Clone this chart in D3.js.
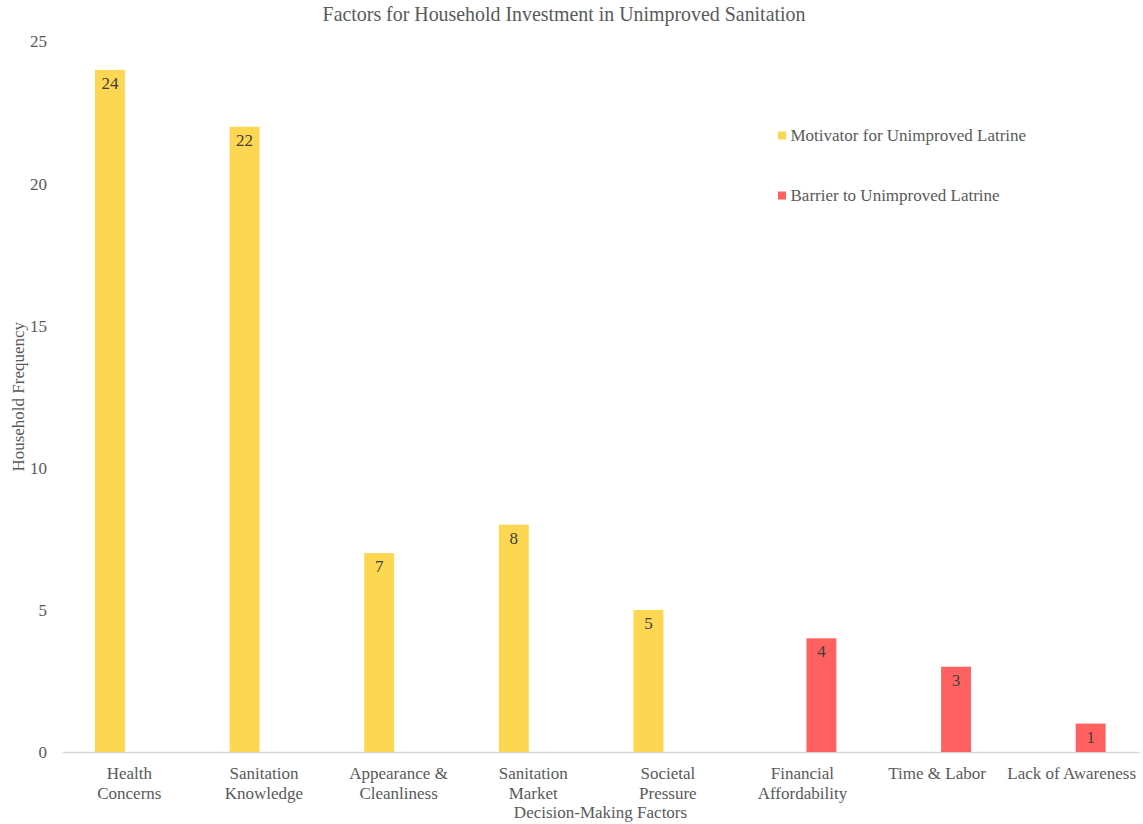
<!DOCTYPE html>
<html>
<head>
<meta charset="utf-8">
<script src="https://cdn.jsdelivr.net/npm/d3@7"></script>
<style>
  html, body { margin: 0; padding: 0; background: #fff; }
  svg { display: block; }
  svg text { font-family: "Liberation Serif", "Times New Roman", "DejaVu Serif", serif; }
</style>
</head>
<body>
<svg id="chart" width="1143" height="824"></svg>
<script>
const categories = [
  ["Health", "Concerns"],
  ["Sanitation", "Knowledge"],
  ["Appearance &", "Cleanliness"],
  ["Sanitation", "Market"],
  ["Societal", "Pressure"],
  ["Financial", "Affordability"],
  ["Time & Labor"],
  ["Lack of Awareness"]
];
const seriesNames = ["Motivator for Unimproved Latrine", "Barrier to Unimproved Latrine"];
const motivatorValues = [24, 22, 7, 8, 5, null, null, null];
const barrierValues = [null, null, null, null, null, 4, 3, 1];
const yTicks = [0, 5, 10, 15, 20, 25];
const colors = ["#FDD652", "#FF6161"];

(function () {
const svg = d3.select("#chart");
const textColor = "#595959";

const plotLeft = 62, plotRight = 1139, plotTop = 41.5, plotBottom = 752;
const catKeys = categories.map((c, i) => i);
const x0 = d3.scaleBand().domain(catKeys).range([plotLeft, plotRight]).paddingInner(0).paddingOuter(0);
const bw = x0.bandwidth();
const x1 = d3.scaleBand().domain([0, 1]).range([0.245 * bw, 0.752 * bw]).paddingInner(0.22).paddingOuter(0);
const y = d3.scaleLinear().domain([0, 25]).range([plotBottom, plotTop]);

// title
svg.append("text")
  .attr("x", 564).attr("y", 21)
  .attr("text-anchor", "middle")
  .attr("font-size", 19.9)
  .attr("fill", textColor)
  .text("Factors for Household Investment in Unimproved Sanitation");

// y axis (labels only)
const yAxis = d3.axisLeft(y).tickValues(yTicks).tickSize(0).tickPadding(0).tickFormat(d3.format("d"));
const yg = svg.append("g").attr("transform", `translate(47,0)`).call(yAxis);
yg.attr("font-family", null).attr("font-size", null);
yg.select(".domain").remove();
yg.selectAll("text").attr("font-size", 17).attr("fill", textColor);

// x axis
const xAxis = d3.axisBottom(x0).tickSize(0).tickFormat(() => "");
const xg = svg.append("g").attr("transform", `translate(0,${plotBottom})`).call(xAxis);
xg.attr("font-family", null).attr("font-size", null);
xg.select(".domain").attr("stroke", "#d9d9d9").attr("stroke-width", 1.3);
xg.selectAll(".tick").each(function (d) {
  const t = d3.select(this).select("text")
    .attr("font-size", 17).attr("fill", textColor)
    .attr("y", 27).attr("dy", 0);
  t.text(null);
  categories[d].forEach((line, i) => {
    t.append("tspan").attr("x", 0).attr("y", 27 + i * 20).text(line);
  });
});

// axis titles
svg.append("text")
  .attr("x", (plotLeft + plotRight) / 2).attr("y", 818)
  .attr("text-anchor", "middle")
  .attr("font-size", 17).attr("fill", textColor)
  .text("Decision-Making Factors");
svg.append("text")
  .attr("transform", `translate(24,${(plotTop + plotBottom) / 2}) rotate(-90)`)
  .attr("text-anchor", "middle")
  .attr("font-size", 17).attr("fill", textColor)
  .text("Household Frequency");

// bars
const seriesValues = [motivatorValues, barrierValues];
seriesValues.forEach((vals, s) => {
  const data = vals.map((v, i) => ({ i, v })).filter(d => d.v != null);
  const g = svg.append("g");
  g.selectAll("rect").data(data).enter().append("rect")
    .attr("x", d => x0(d.i) + x1(s))
    .attr("width", x1.bandwidth())
    .attr("y", d => y(d.v))
    .attr("height", d => y(0) - y(d.v))
    .attr("fill", colors[s]);
  g.selectAll("text").data(data).enter().append("text")
    .attr("x", d => x0(d.i) + x1(s) + x1.bandwidth() / 2)
    .attr("y", d => y(d.v) + 19)
    .attr("text-anchor", "middle")
    .attr("font-size", 17).attr("fill", "#404040")
    .text(d => d.v);
});

// legend
const legendY = [135.5, 195.5];
seriesNames.forEach((name, s) => {
  svg.append("rect")
    .attr("x", 778).attr("y", legendY[s] - 4).attr("width", 8).attr("height", 8)
    .attr("fill", colors[s]);
  svg.append("text")
    .attr("x", 790.5).attr("y", legendY[s] + 5.5)
    .attr("font-size", 17).attr("fill", textColor)
    .text(name);
});
})();
</script>
</body>
</html>
